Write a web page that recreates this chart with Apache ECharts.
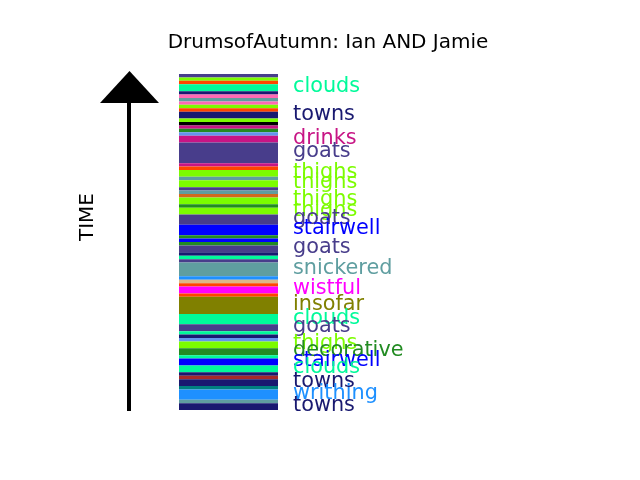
<!DOCTYPE html>
<html>
<head>
<meta charset="utf-8">
<script src="https://cdn.jsdelivr.net/npm/echarts@6/dist/echarts.min.js"></script>
<style>html,body{margin:0;padding:0;background:#fff}#c{width:640px;height:480px}</style>
</head>
<body>
<div id="c"></div>
<script>
// Stripes listed from top to bottom; duration in time units
const durations = [1,1,1,2,1,1,1,1,1,1, 2,1,1,1,1,1,2,6,1,1, 2,1,2,1,1,1,2,1,2,3, 3,1,1,1,2,1,1,1,4,1, 1,1,2,1,5,3,2,1,1,1, 2,2,1,2,2,1,1,2,1,3,1,2];
const colors = ['darkslateblue','lawngreen','orangered','mediumspringgreen','midnightblue','hotpink','cadetblue','hotpink','lawngreen','orangered',
'midnightblue','lawngreen','black','mediumvioletred','forestgreen','cornflowerblue','mediumvioletred','darkslateblue','mediumvioletred','orangered',
'lawngreen','cadetblue','lawngreen','darkslateblue','cadetblue','chocolate','lawngreen','forestgreen','lawngreen','darkslateblue',
'blue','forestgreen','blue','forestgreen','darkslateblue','midnightblue','mediumspringgreen','darkslateblue','cadetblue','dodgerblue',
'burlywood','orangered','magenta','orangered','olive','mediumspringgreen','darkslateblue','mediumspringgreen','midnightblue','cornflowerblue',
'lawngreen','forestgreen','mediumspringgreen','blue','mediumspringgreen','midnightblue','brown','midnightblue','teal','dodgerblue','cadetblue','midnightblue'];
const words = ['','','','clouds','','','','','','',
'towns','','','','','','drinks','goats','','',
'thighs','','thighs','','','','thighs','','thighs','goats',
'stairwell','','','','goats','','','','snickered','',
'','','wistful','','insofar','clouds','goats','','','',
'thighs','decorative','','stairwell','clouds','','','towns','','writhing','','towns'];
const titleText = 'DrumsofAutumn: Ian AND Jamie';
const axisText = 'TIME';

const total = durations.reduce((a,b)=>a+b,0);
const stripeData = [];
let acc = 0;
durations.forEach((d,i)=>{ stripeData.push([acc, acc+d, i]); acc += d; });
const labelData = stripeData.filter(s=>words[s[2]] !== '').map(s=>[(s[0]+s[1])/2, s[2]]);

const chart = echarts.init(document.getElementById('c'), null, {renderer:'canvas'});
const FONT = 'DejaVu Sans';
chart.setOption({
  backgroundColor:'#ffffff',
  animation:false,
  grid:{left:179, top:74, width:99, height:336},
  xAxis:{type:'value', min:0, max:1, show:false},
  yAxis:{type:'value', min:0, max:total, inverse:true, show:false},
  graphic:[
    {type:'text', x:328, y:43, style:{text:titleText, fill:'#000', fontFamily:FONT, fontSize:20, align:'center', verticalAlign:'middle'}},
    {type:'text', x:88, y:217, rotation:Math.PI/2, style:{text:axisText, fill:'#000', fontFamily:FONT, fontSize:20, align:'center', verticalAlign:'middle'}},
    {type:'rect', shape:{x:127, y:100, width:4, height:311}, style:{fill:'#000'}},
    {type:'polygon', shape:{points:[[100,103],[159,103],[129.5,71]]}, style:{fill:'#000'}}
  ],
  series:[
    {
      type:'custom',
      data:stripeData,
      encode:{x:-1, y:[0,1]},
      renderItem:function(params, api){
        const s = api.value(0), e = api.value(1), idx = api.value(2);
        const p0 = api.coord([0, s]);
        const p1 = api.coord([1, e]);
        return {type:'rect', shape:{x:p0[0], y:Math.min(p0[1],p1[1]), width:p1[0]-p0[0], height:Math.abs(p1[1]-p0[1])},
          style:{fill:colors[idx]}};
      }
    },
    {
      type:'custom',
      data:labelData,
      encode:{x:-1, y:0},
      renderItem:function(params, api){
        const c = api.value(0), idx = api.value(1);
        const p = api.coord([1, c]);
        return {type:'text', x:p[0]+15, y:p[1]-1,
          style:{text:words[idx], fill:colors[idx], fontFamily:FONT, fontSize:20.8, align:'left', verticalAlign:'middle'}};
      }
    }
  ]
});
</script>
</body>
</html>
